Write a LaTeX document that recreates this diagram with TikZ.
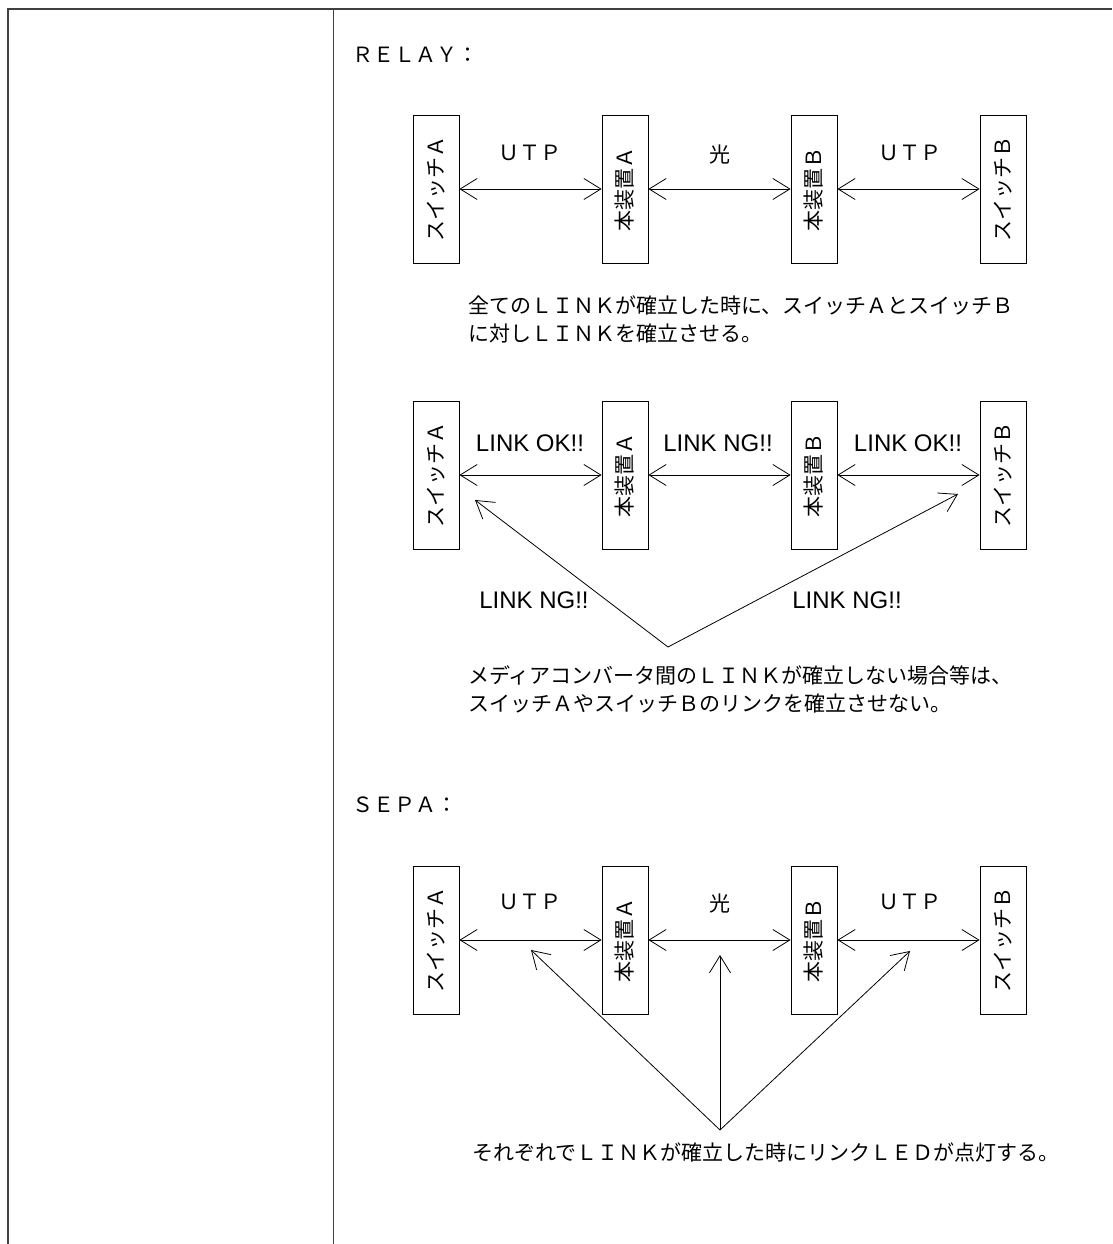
\documentclass[tikz,border=0pt]{standalone}
\usepackage{fontspec}
\setmainfont{Noto Sans CJK JP}
\newfontfamily\lat{Liberation Sans}
\usetikzlibrary{arrows.meta}
\begin{document}
\begin{tikzpicture}[x=1pt,y=-1pt,
  frame/.style={line width=1.4pt,draw=black!75},
  box/.style={draw,line width=0.8pt,minimum width=148pt,minimum height=46pt,inner sep=0pt,rotate=90,font=\fontsize{21}{21}\selectfont},
  jtext/.style={font=\fontsize{21}{21}\selectfont,inner sep=0pt},
  lnk/.style={font=\lat\fontsize{24}{24}\selectfont,inner sep=0pt},
  conn/.style={line width=0.8pt},
  >={Straight Barb[length=17pt,width=21pt,line width=0.8pt]}]
\useasboundingbox (0,0) rectangle (1112,1244);
% frame
\coordinate (fbl) at (8,1244);
\coordinate (ftl) at (8,9);
\coordinate (ftr) at (1112,9);
\coordinate (mt) at (333.5,9);
\coordinate (mb) at (333.5,1244);
\draw[frame] (fbl) -- (ftl) -- (ftr);
\draw[frame] (mt) -- (mb);

% RELAY
\node[jtext,anchor=west] (relay) at (352,55) {ＲＥＬＡＹ：};

% row 1
\node[box] (sA1) at (436,189) {スイッチＡ};
\node[box] (dA1) at (625,189) {本装置Ａ};
\node[box] (dB1) at (814,189) {本装置Ｂ};
\node[box] (sB1) at (1003,189) {スイッチＢ};
\draw[conn,<->] (sA1) -- (dA1);
\draw[conn,<->] (dA1) -- (dB1);
\draw[conn,<->] (dB1) -- (sB1);
\node[jtext] (u1a) at (530,153) {ＵＴＰ};
\node[jtext] (h1) at (720,155) {光};
\node[jtext] (u1b) at (910,153) {ＵＴＰ};

\node[jtext,anchor=base west] (t1a) at (468,313) {全てのＬＩＮＫが確立した時に、スイッチＡとスイッチＢ};
\node[jtext,anchor=base west] (t1b) at (468,341) {に対しＬＩＮＫを確立させる。};

% row 2
\node[box] (sA2) at (436,475) {スイッチＡ};
\node[box] (dA2) at (625,475) {本装置Ａ};
\node[box] (dB2) at (814,475) {本装置Ｂ};
\node[box] (sB2) at (1003,475) {スイッチＢ};
\draw[conn,<->] (sA2) -- (dA2);
\draw[conn,<->] (dA2) -- (dB2);
\draw[conn,<->] (dB2) -- (sB2);
\node[lnk] (ok2a) at (530,443) {LINK OK!!};
\node[lnk] (ng2) at (718,443) {LINK NG!!};
\node[lnk] (ok2b) at (908,443) {LINK OK!!};
\coordinate (apex2) at (668,647);
\coordinate (tip2l) at (475,500);
\coordinate (tip2r) at (958,494);
\draw[conn,->] (apex2) -- (tip2l);
\draw[conn,->] (apex2) -- (tip2r);
\node[lnk] (ng2l) at (534,600) {LINK NG!!};
\node[lnk] (ng2r) at (847,600) {LINK NG!!};

\node[jtext,anchor=base west] (t2a) at (468,683) {メディアコンバータ間のＬＩＮＫが確立しない場合等は、};
\node[jtext,anchor=base west] (t2b) at (468,711) {スイッチＡやスイッチＢのリンクを確立させない。};

% SEPA
\node[jtext,anchor=west] (sepa) at (352,805) {ＳＥＰＡ：};

% row 3
\node[box] (sA3) at (436,940) {スイッチＡ};
\node[box] (dA3) at (625,940) {本装置Ａ};
\node[box] (dB3) at (814,940) {本装置Ｂ};
\node[box] (sB3) at (1003,940) {スイッチＢ};
\draw[conn,<->] (sA3) -- (dA3);
\draw[conn,<->] (dA3) -- (dB3);
\draw[conn,<->] (dB3) -- (sB3);
\node[jtext] (u3a) at (530,902) {ＵＴＰ};
\node[jtext] (h3) at (720,904) {光};
\node[jtext] (u3b) at (910,902) {ＵＴＰ};
\coordinate (apex3) at (720,1130);
\coordinate (tip3l) at (531,950);
\coordinate (tip3m) at (720,955);
\coordinate (tip3r) at (910,951);
\draw[conn,->] (apex3) -- (tip3l);
\draw[conn,->] (apex3) -- (tip3m);
\draw[conn,->] (apex3) -- (tip3r);
\node[jtext,anchor=base west] (t3) at (472,1160) {それぞれでＬＩＮＫが確立した時にリンクＬＥＤが点灯する。};
\end{tikzpicture}
\end{document}
